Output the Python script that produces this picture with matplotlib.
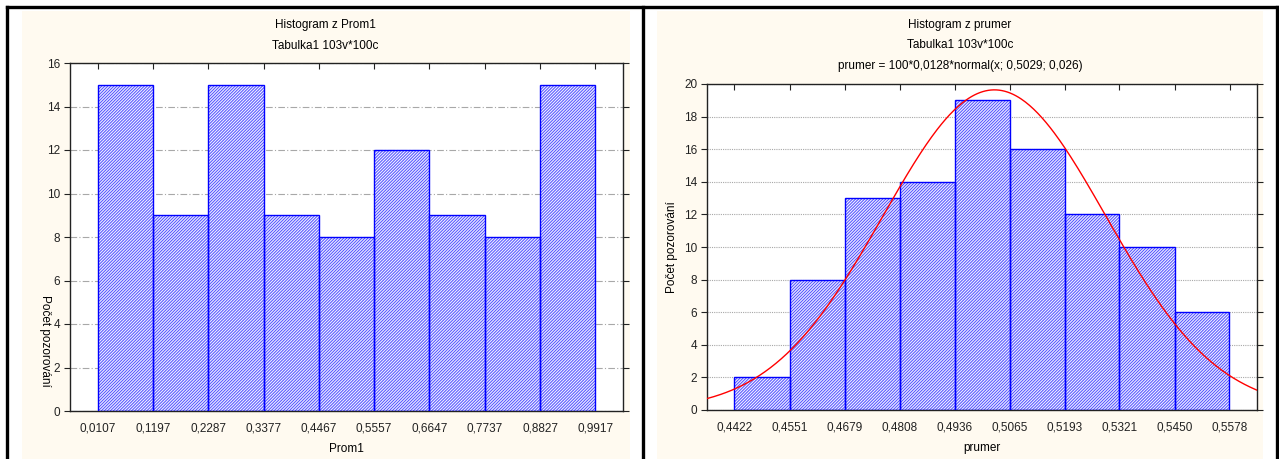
import numpy as np
import matplotlib
matplotlib.use("Agg")
import matplotlib.pyplot as plt
from matplotlib.patches import Rectangle
from matplotlib.lines import Line2D

plt.rcParams['font.family'] = ['Liberation Sans', 'DejaVu Sans']
plt.rcParams['hatch.linewidth'] = 0.7

# ---- data ----
left_edges = [0.0107, 0.1197, 0.2287, 0.3377, 0.4467, 0.5557, 0.6647, 0.7737, 0.8827, 0.9917]
left_counts = [15, 9, 15, 9, 8, 12, 9, 8, 15]
left_edge_labels = ["0,0107", "0,1197", "0,2287", "0,3377", "0,4467", "0,5557", "0,6647", "0,7737", "0,8827", "0,9917"]

right_edges = [0.4422, 0.4551, 0.4679, 0.4808, 0.4936, 0.5065, 0.5193, 0.5321, 0.5450, 0.5578]
right_counts = [2, 8, 13, 14, 19, 16, 12, 10, 6]
right_edge_labels = ["0,4422", "0,4551", "0,4679", "0,4808", "0,4936", "0,5065", "0,5193", "0,5321", "0,5450", "0,5578"]

# fitted normal stated in the chart title: 100*0,0128*normal(x; 0,5029; 0,026)
fit_n = 100
fit_binw = 0.0128
fit_mean = 0.5029
fit_sd = 0.026

W, H = 1279, 459
fig = plt.figure(figsize=(W / 100, H / 100), dpi=100)
fig.patch.set_facecolor('white')

def fx(px):
    return px / W

def fy(py):
    return 1 - py / H

cream = '#fffaf0'
# cream panel backgrounds
fig.patches.append(Rectangle((fx(22), 0), fx(630) - fx(22), fy(11), transform=fig.transFigure,
                             facecolor=cream, edgecolor='none', zorder=-5))
fig.patches.append(Rectangle((fx(657), 0), fx(1263) - fx(657), fy(11), transform=fig.transFigure,
                             facecolor=cream, edgecolor='none', zorder=-5))
# black frame lines
for (x0, y0, x1, y1) in [(7, 7, 1277, 7), (7, 7, 7, 459), (643, 7, 643, 459), (1277, 7, 1277, 459)]:
    fig.lines.append(Line2D([fx(x0), fx(x1)], [fy(y0), fy(y1)], transform=fig.transFigure,
                            color='black', lw=2.4, zorder=5))

bar_face = '#eeeeff'
bar_edge = '#0000ff'
hatch_col = '#5050ff'
txt_size = 8.5

def make_axes(x0, y0, x1, y1):
    ax = fig.add_axes([fx(x0), fy(y1), fx(x1) - fx(x0), fy(y0) - fy(y1)])
    ax.set_zorder(2)
    ax.set_facecolor('white')
    for s in ax.spines.values():
        s.set_color('#222222')
        s.set_linewidth(1.0)
    ax.set_axisbelow(True)
    return ax

def draw_hist(ax, edges, counts, labels, ymax, grid_ls):
    edges = np.array(edges)
    widths = np.diff(edges)
    for e, w, c in zip(edges[:-1], widths, counts):
        ax.bar(e, c, width=w, align='edge', facecolor=bar_face, edgecolor=hatch_col,
               hatch='/' * 11, linewidth=0, zorder=2)
        ax.bar(e, c, width=w, align='edge', facecolor='none', edgecolor=bar_edge,
               linewidth=1.0, zorder=3)
    bw = widths.mean()
    ax.set_xlim(edges[0] - 0.5 * bw, edges[-1] + 0.5 * bw)
    ax.set_ylim(0, ymax)
    ax.set_xticks(edges)
    ax.set_xticklabels(labels, fontsize=txt_size)
    ax.set_yticks(np.arange(0, ymax + 1, 2))
    ax.tick_params(axis='x', bottom=False, top=True, direction='in', length=4,
                   labelbottom=True, pad=8, colors='#222222', labelcolor='#222222')
    ax.tick_params(axis='y', left=True, right=True, direction='out', length=4,
                   labelsize=txt_size, pad=3, colors='#222222', labelcolor='#222222')
    ax.yaxis.grid(True, color='#a8a8a8', linestyle=grid_ls, linewidth=0.8)

# ---- left panel ----
axL = make_axes(70, 63, 623, 411)
draw_hist(axL, left_edges, left_counts, left_edge_labels, 16, (0, (6, 2, 1, 2)))
fig.text(fx(325), fy(25), "Histogram z Prom1", ha='center', va='center', fontsize=txt_size)
fig.text(fx(325), fy(46), "Tabulka1 103v*100c", ha='center', va='center', fontsize=txt_size)
fig.text(fx(346), fy(449), "Prom1", ha='center', va='center', fontsize=txt_size)
fig.text(fx(45), fy(341), "Počet pozorování", ha='center', va='center', rotation=270, fontsize=txt_size)

# ---- right panel ----
axR = make_axes(707, 84, 1257, 410)
draw_hist(axR, right_edges, right_counts, right_edge_labels, 20, (0, (1, 1)))
xs = np.linspace(*axR.get_xlim(), 400)
ys = fit_n * fit_binw * np.exp(-0.5 * ((xs - fit_mean) / fit_sd) ** 2) / (fit_sd * np.sqrt(2 * np.pi))
axR.plot(xs, ys, color='#ff0000', lw=1.0, zorder=4, clip_on=True)
fig.text(fx(960), fy(25), "Histogram z prumer", ha='center', va='center', fontsize=txt_size)
fig.text(fx(960), fy(45), "Tabulka1 103v*100c", ha='center', va='center', fontsize=txt_size)
fig.text(fx(960), fy(66), "prumer = 100*0,0128*normal(x; 0,5029; 0,026)", ha='center', va='center', fontsize=txt_size)
fig.text(fx(982), fy(448), "prumer", ha='center', va='center', fontsize=txt_size)
fig.text(fx(672), fy(247), "Počet pozorování", ha='center', va='center', rotation=90, fontsize=txt_size)

fig.savefig("out.png", dpi=100, facecolor='white')
